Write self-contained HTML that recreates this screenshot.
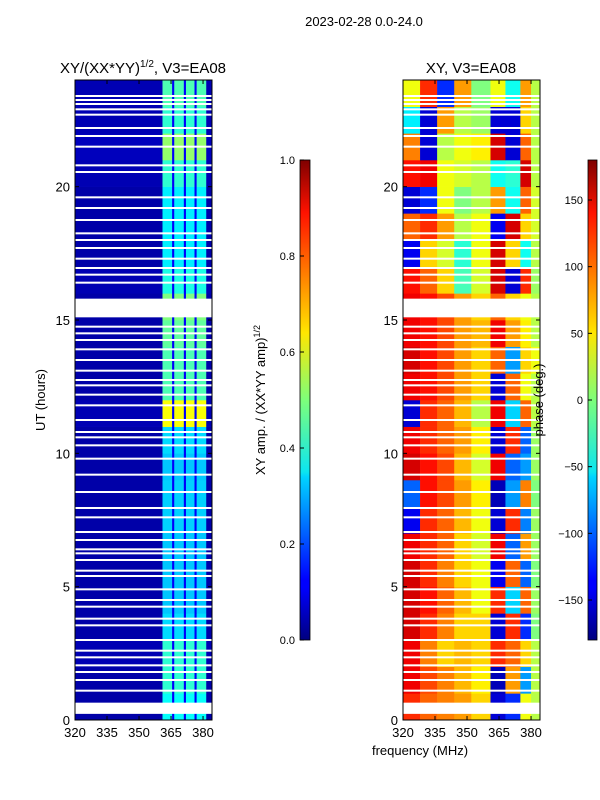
<!DOCTYPE html>
<html><head><meta charset="utf-8"><style>
html,body{margin:0;padding:0;background:#fff;}
svg{display:block;font-family:"Liberation Sans",sans-serif;}
</style></head><body>
<svg id="fig" width="600" height="800" viewBox="0 0 600 800">
<defs>
<linearGradient id="jetV" x1="0" y1="1" x2="0" y2="0">
<stop offset="0" stop-color="#00007f"/><stop offset="0.11" stop-color="#0000ff"/><stop offset="0.125" stop-color="#0000ff"/>
<stop offset="0.34" stop-color="#00d4ff"/><stop offset="0.35" stop-color="#0ce5f0"/><stop offset="0.5" stop-color="#7dff7a"/>
<stop offset="0.64" stop-color="#ffe600"/><stop offset="0.66" stop-color="#ffd400"/><stop offset="0.89" stop-color="#ff1200"/><stop offset="1" stop-color="#7f0000"/>
</linearGradient>
</defs>
<text x="364" y="26" font-size="13" text-anchor="middle">2023-02-28 0.0-24.0</text>
<g id="ampPlot"></g>
<g id="phasePlot"></g>
<text x="143" y="73" font-size="15" text-anchor="middle">XY/(XX*YY)<tspan font-size="10" dy="-6">1/2</tspan><tspan dy="6">, V3=EA08</tspan></text>
<text x="471" y="73" font-size="15" text-anchor="middle">XY, V3=EA08</text>
<text transform="translate(45,400) rotate(-90)" font-size="13" text-anchor="middle">UT (hours)</text>
<text transform="translate(265,400) rotate(-90)" font-size="13" text-anchor="middle">XY amp. / (XX*YY amp)<tspan font-size="9" dy="-5">1/2</tspan></text>
<text transform="translate(543,400) rotate(-90)" font-size="13" text-anchor="middle">phase (deg.)</text>
<text x="420" y="755" font-size="13" text-anchor="middle">frequency (MHz)</text>
<g id="cb1"></g>
<g id="cb2"></g>
</svg>
<script>
// ---- data ----
const freqTicks = [320, 335, 350, 365, 380];
const hourTicks = [0, 5, 10, 15, 20];
const ampTicks = [0.0, 0.2, 0.4, 0.6, 0.8, 1.0];
const phaseTicks = [-150, -100, -50, 0, 50, 100, 150];
const phaseFreqEdges = [320, 328, 336, 344, 352, 361, 368, 375, 380, 384.2];
// phase per hour (row 0 = 00h) per freq band (deg)
const phaseRows = [
 [120,100,90,80,60,-150,-120,40,20],
 [140,110,90,70,50,-160,80,-80,20],
 [140,90,60,70,60,120,100,60,20],
 [150,120,90,60,60,-150,120,-120,0],
 [150,130,100,70,40,120,-60,100,10],
 [150,120,90,60,40,-140,100,-100,0],
 [140,120,100,60,30,140,-100,80,10],
 [-140,120,100,70,40,-150,120,-90,10],
 [-100,130,110,80,50,-160,-80,90,0],
 [150,130,110,70,30,140,-100,-80,10],
 [140,120,100,80,50,-150,120,-100,10],
 [-150,120,100,70,20,140,-60,100,20],
 [140,130,110,80,60,-150,100,40,20],
 [150,130,110,80,60,100,-80,60,40],
 [140,130,110,80,70,140,80,50,20],
 [140,130,110,80,60,100,60,40,20],
 [130,100,60,-20,30,150,-150,120,10],
 [-140,60,30,-30,40,150,60,-40,20],
 [100,120,80,20,40,-140,150,60,30],
 [-150,-120,40,0,20,80,-40,100,30],
 [130,140,40,30,20,-40,-30,150,20],
 [90,-150,20,40,50,150,-150,100,20],
 [-50,-150,80,20,10,-150,-150,60,20],
 [40,120,-120,80,0,40,-40,80,20]
];
const ampFreqEdges = [320, 361, 365.5, 366.5, 371, 372, 376, 377, 381.5, 384.2];
const ampIsStripe = [0, 1, 0, 1, 0, 1, 0, 1, 0];
const ampBackground = [0.04,0.04,0.05,0.04,0.04,0.04,0.04,0.04,0.04,0.04,0.04,0.05,0.04,0.04,0.04,0.04,0.05,0.04,0.04,0.04,0.05,0.06,0.05,0.05];
const ampStripe = [0.38,0.42,0.42,0.34,0.32,0.32,0.32,0.33,0.33,0.32,0.34,0.62,0.45,0.45,0.47,0.5,0.4,0.36,0.36,0.36,0.42,0.52,0.42,0.45];
const ampGapLevel = 0.12;
const flaggedRanges = [[0.23,0.65],[15.1,15.8]];
const flaggedLines = [23.4,23.25,23.1,22.9,22.7,22.2,21.9,21.5,20.8,20.55,19.6,19.2,18.75,18.25,18.0,17.7,17.3,16.95,16.7,16.4,14.75,14.5,14.25,13.9,13.5,13.1,12.75,12.55,12.2,11.8,11.25,10.8,10.6,10.3,9.8,9.2,8.55,7.95,7.6,7.05,6.75,6.4,6.25,6.0,5.6,5.4,4.9,4.5,4.25,3.8,3.55,3.0,2.6,2.35,2.05,1.8,1.5,1.1];

// ---- helpers ----
const NS = "http://www.w3.org/2000/svg";
function mk(tag, attrs, parent){const e=document.createElementNS(NS,tag);for(const k in attrs)e.setAttribute(k,attrs[k]);parent.appendChild(e);return e;}
function jet(t){t=Math.max(0,Math.min(1,t));
 const r=Math.max(0,Math.min(1,1.5-Math.abs(4*t-3))),g=Math.max(0,Math.min(1,1.5-Math.abs(4*t-2))),b=Math.max(0,Math.min(1,1.5-Math.abs(4*t-1)));
 return `rgb(${Math.round(r*255)},${Math.round(g*255)},${Math.round(b*255)})`;}
const Y0=720, Y1=80;
function yS(h){return Y0-(h/24)*(Y0-Y1);}
function makeX(x0,x1){return f=>x0+(f-320)/(384.2-320)*(x1-x0);}

function drawPanel(g, x0, x1, edges, cellVal, colorFn, label){
 const xS=makeX(x0,x1);
 for(let r=0;r<24;r++){
  for(let c=0;c<edges.length-1;c++){
   const xa=xS(edges[c]), xb=xS(edges[c+1]);
   const rect=mk('rect',{x:xa.toFixed(2),y:yS(r+1).toFixed(2),width:(xb-xa+0.3).toFixed(2),height:(yS(r)-yS(r+1)+0.3).toFixed(2),fill:colorFn(cellVal(r,c))},g);
   
   
  }
 }
 flaggedRanges.forEach(fr=>{
  const e=mk('rect',{x:x0,y:yS(fr[1]),width:x1-x0,height:yS(fr[0])-yS(fr[1]),fill:'#fff'},g);
  
  
 });
 flaggedLines.forEach(h=>{
  const e=mk('rect',{x:x0,y:yS(h)-1,width:x1-x0,height:2,fill:'#fff'},g);
  
  
 });
 const fr=mk('rect',{x:x0,y:Y1,width:x1-x0,height:Y0-Y1,fill:'none',stroke:'#000','stroke-width':1},g);
 
 
 freqTicks.forEach(f=>{
  const x=xS(f);
  mk('line',{x1:x,y1:Y0,x2:x,y2:Y0-4,stroke:'#000'},g);
  mk('line',{x1:x,y1:Y1,x2:x,y2:Y1+4,stroke:'#000'},g);
  const t=mk('text',{x:x,y:Y0+17,'font-size':13,'text-anchor':'middle'},g);t.textContent=f;
  
  
 });
 hourTicks.forEach(h=>{
  const y=yS(h);
  mk('line',{x1:x0,y1:y,x2:x0+4,y2:y,stroke:'#000'},g);
  mk('line',{x1:x1,y1:y,x2:x1-4,y2:y,stroke:'#000'},g);
  const t=mk('text',{x:x0-5,y:y+5,'font-size':13,'text-anchor':'end'},g);t.textContent=h;
  
  
 });
}
drawPanel(document.getElementById('ampPlot'),75,212,ampFreqEdges,
 (r,c)=>ampIsStripe[c]?ampStripe[r]:(c===ampFreqEdges.length-2?ampBackground[r]:(c===0?ampBackground[r]:ampGapLevel)),
 v=>jet(v),'amp');
drawPanel(document.getElementById('phasePlot'),403,540,phaseFreqEdges,
 (r,c)=>phaseRows[r][c], v=>jet((v+180)/360),'phase');

function colorbar(g,x,w,ticks,vmin,vmax,fmt){
 const y0=640,y1=160;
 mk('rect',{x:x,y:y1,width:w,height:y0-y1,fill:'url(#jetV)',stroke:'#000','stroke-width':0.8},g);
 ticks.forEach(v=>{
  const y=y0-(v-vmin)/(vmax-vmin)*(y0-y1);
  mk('line',{x1:x,y1:y,x2:x+4,y2:y,stroke:'#000'},g);
  const t=mk('text',{x:x-5,y:y+4,'font-size':11,'text-anchor':'end'},g);t.textContent=fmt(v);
  
  
 });
}
colorbar(document.getElementById('cb1'),300,10,ampTicks,0,1,v=>v.toFixed(1));
colorbar(document.getElementById('cb2'),588,9,phaseTicks,-180,180,v=>v<0?'\u2212'+(-v):String(v));
</script>
</body></html>
